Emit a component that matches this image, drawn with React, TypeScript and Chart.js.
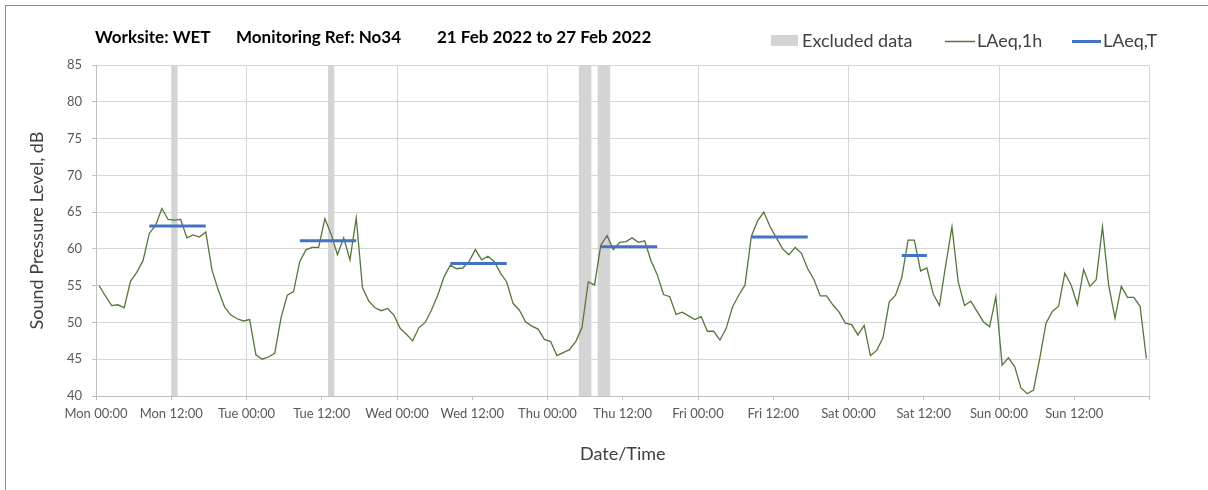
import React, { useEffect, useRef } from 'react';
import { Chart, registerables } from 'chart.js';

Chart.register(...registerables);

// ---------- data ----------
const titleParts = ['Worksite: WET', 'Monitoring Ref: No34', '21 Feb 2022 to 27 Feb 2022'];
const legendLabels = ['Excluded data', 'LAeq,1h', 'LAeq,T'];
const xAxisTitle = 'Date/Time';
const yAxisTitle = 'Sound Pressure Level, dB';

const xTickLabels = [
  'Mon 00:00', 'Mon 12:00', 'Tue 00:00', 'Tue 12:00', 'Wed 00:00', 'Wed 12:00',
  'Thu 00:00', 'Thu 12:00', 'Fri 00:00', 'Fri 12:00', 'Sat 00:00', 'Sat 12:00',
  'Sun 00:00', 'Sun 12:00', '',
];
const yMin = 40;
const yMax = 85;
const yStep = 5;

// hourly LAeq,1h values, one array per day (00:00 .. 23:00)
const monLAeq1h = [55.0, 53.6, 52.3, 52.4, 52.0, 55.6, 56.8, 58.4, 62.1, 63.2, 65.5, 64.0, 63.9, 64.0, 61.5, 61.9, 61.6, 62.3, 57.1, 54.4, 52.1, 51.0, 50.5, 50.2];
const tueLAeq1h = [50.4, 45.6, 45.0, 45.3, 45.8, 50.6, 53.7, 54.2, 58.3, 59.9, 60.2, 60.2, 64.1, 62.0, 59.2, 61.5, 58.5, 64.2, 54.7, 52.9, 52.0, 51.6, 51.9, 51.0];
const wedLAeq1h = [49.2, 48.4, 47.5, 49.3, 50.0, 51.7, 53.7, 56.2, 57.8, 57.3, 57.4, 58.3, 59.9, 58.5, 59.0, 58.3, 56.7, 55.5, 52.6, 51.7, 50.1, 49.5, 49.1, 47.7];
const thuLAeq1h = [47.4, 45.5, 45.9, 46.3, 47.4, 49.3, 55.5, 55.1, 60.5, 61.8, 59.9, 60.9, 61.0, 61.5, 60.9, 61.1, 58.4, 56.5, 53.8, 53.5, 51.1, 51.4, 50.9, 50.4];
const friLAeq1h = [50.8, 48.8, 48.8, 47.6, 49.2, 52.1, 53.7, 55.1, 61.7, 63.8, 65.0, 63.0, 61.5, 60.0, 59.2, 60.2, 59.4, 57.3, 55.8, 53.6, 53.6, 52.4, 51.4, 49.9];
const satLAeq1h = [49.7, 48.3, 49.6, 45.5, 46.2, 47.9, 52.8, 53.7, 56.1, 61.2, 61.2, 57.0, 57.4, 53.9, 52.3, 57.8, 63.0, 55.5, 52.3, 52.9, 51.5, 50.1, 49.4, 53.5];
const sunLAeq1h = [44.2, 45.2, 44.0, 41.1, 40.3, 40.8, 45.1, 49.9, 51.5, 52.2, 56.7, 55.1, 52.4, 57.2, 54.9, 55.8, 63.0, 55.0, 50.6, 54.9, 53.4, 53.4, 52.2, 45.1];

// LAeq,T per day for the assessment period (hour categories start..end)
const periodDay = [0, 1, 2, 3, 4, 5];
const periodStartHour = [8, 8, 8, 8, 8, 8];
const periodEndHour = [17, 17, 17, 17, 17, 12];
const laeqT = [63.1, 61.1, 58.0, 60.3, 61.6, 59.1];

// excluded data periods (hours from Mon 00:00)
const excludedStart = [12, 37, 77, 80];
const excludedEnd = [13, 38, 79, 82];

// ---------- styles ----------
const FONT = 'Lato';
const GREEN = '#55763a';
const BLUE = '#4472c4';
const GREY_BAR = '#d4d4d4';
const GRID = '#d6d6d6';
const AXIS = '#bfbfbf';

const allHourly = [
  ...monLAeq1h, ...tueLAeq1h, ...wedLAeq1h, ...thuLAeq1h,
  ...friLAeq1h, ...satLAeq1h, ...sunLAeq1h,
];

function buildHourly() {
  return allHourly.map((v, i) => ({ x: i + 0.5, y: v }));
}

function buildLAeqT() {
  const pts: { x: number; y: number | null }[] = [];
  periodDay.forEach((d, i) => {
    const s = d * 24 + periodStartHour[i] + 0.5;
    const e = d * 24 + periodEndHour[i] + 0.5;
    pts.push({ x: s, y: laeqT[i] });
    pts.push({ x: e, y: laeqT[i] });
    pts.push({ x: e + 0.25, y: null });
  });
  return pts;
}

const excludedPlugin = {
  id: 'excludedBands',
  beforeDatasetsDraw(chart: any) {
    const { ctx, chartArea, scales } = chart;
    const x = scales.x;
    ctx.save();
    ctx.fillStyle = GREY_BAR;
    excludedStart.forEach((s, i) => {
      const x0 = x.getPixelForValue(s);
      const x1 = x.getPixelForValue(excludedEnd[i]);
      ctx.fillRect(x0, chartArea.top, x1 - x0, chartArea.bottom - chartArea.top);
    });
    ctx.restore();
  },
};

const headerPlugin = {
  id: 'header',
  afterDraw(chart: any) {
    const { ctx } = chart;
    ctx.save();
    // title
    ctx.fillStyle = '#000000';
    ctx.font = `bold 17px ${FONT}`;
    ctx.textBaseline = 'alphabetic';
    ctx.textAlign = 'left';
    const titleX = [95, 236, 437];
    titleParts.forEach((t, i) => ctx.fillText(t, titleX[i], 43));

    // legend
    ctx.font = `18px ${FONT}`;
    ctx.fillStyle = GREY_BAR;
    ctx.fillRect(771, 35, 27, 11);
    ctx.fillStyle = '#404040';
    ctx.fillText(legendLabels[0], 802, 47);

    ctx.strokeStyle = GREEN;
    ctx.lineWidth = 1.5;
    ctx.beginPath();
    ctx.moveTo(945, 41.5);
    ctx.lineTo(975, 41.5);
    ctx.stroke();
    ctx.fillText(legendLabels[1], 977, 47);

    ctx.strokeStyle = BLUE;
    ctx.lineWidth = 3;
    ctx.beginPath();
    ctx.moveTo(1072, 41.5);
    ctx.lineTo(1101, 41.5);
    ctx.stroke();
    ctx.fillText(legendLabels[2], 1103, 47);
    ctx.restore();
  },
};

export default function App() {
  const canvasRef = useRef<HTMLCanvasElement | null>(null);

  useEffect(() => {
    const canvas = canvasRef.current;
    if (!canvas) return;
    const chart = new Chart(canvas, {
      type: 'line',
      data: {
        datasets: [
          {
            label: legendLabels[2],
            data: buildLAeqT() as any,
            borderColor: BLUE,
            borderWidth: 3,
            pointRadius: 0,
            spanGaps: false,
            tension: 0,
            borderCapStyle: 'butt',
          },
          {
            label: legendLabels[1],
            data: buildHourly() as any,
            borderColor: GREEN,
            borderWidth: 1.3,
            pointRadius: 0,
            tension: 0,
          },
        ],
      },
      options: {
        responsive: false,
        animation: false,
        devicePixelRatio: 1,
        events: [],
        parsing: true,
        layout: { padding: { top: 65, right: 58.5, left: 0, bottom: 0 } },
        plugins: {
          legend: { display: false },
          title: { display: false },
          tooltip: { enabled: false },
        },
        scales: {
          x: {
            type: 'linear',
            min: 0,
            max: 168,
            ticks: {
              stepSize: 12,
              autoSkip: false,
              maxRotation: 0,
              minRotation: 0,
              padding: 6,
              color: '#595959',
              font: { family: FONT, size: 13 },
              callback: (_v: any, i: number) => xTickLabels[i] ?? '',
            },
            grid: {
              color: (c: any) => (c.tick && c.tick.value % 24 === 0 ? GRID : 'rgba(0,0,0,0)'),
              tickColor: AXIS,
              tickLength: 4,
              lineWidth: 1,
            },
            border: { color: AXIS, width: 1 },
            title: {
              display: true,
              text: xAxisTitle,
              color: '#404040',
              font: { family: FONT, size: 18 },
              padding: { top: 0, bottom: 25 },
            },
            afterFit: (s: any) => { s.height = 94; },
          },
          y: {
            type: 'linear',
            min: yMin,
            max: yMax,
            ticks: {
              stepSize: yStep,
              padding: 10,
              color: '#595959',
              font: { family: FONT, size: 13 },
            },
            grid: { color: GRID, tickColor: AXIS, tickLength: 4, lineWidth: 1 },
            border: { color: AXIS, width: 1 },
            title: {
              display: true,
              text: yAxisTitle,
              color: '#404040',
              font: { family: FONT, size: 18 },
              padding: { top: 26, bottom: 0 },
            },
            afterFit: (s: any) => { s.width = 96; },
          },
        },
      },
      plugins: [excludedPlugin, headerPlugin],
    });
    return () => chart.destroy();
  }, []);

  return (
    <div style={{ position: 'absolute', left: 0, top: 0, width: 1208, height: 490, overflow: 'hidden', background: '#fff' }}>
      <div style={{ position: 'absolute', left: 5, top: 5, width: 1300, height: 600, border: '1px solid #8c8c8c' }} />
      <canvas ref={canvasRef} width={1208} height={490} style={{ position: 'absolute', left: 0, top: 0, width: 1208, height: 490 }} />
    </div>
  );
}
